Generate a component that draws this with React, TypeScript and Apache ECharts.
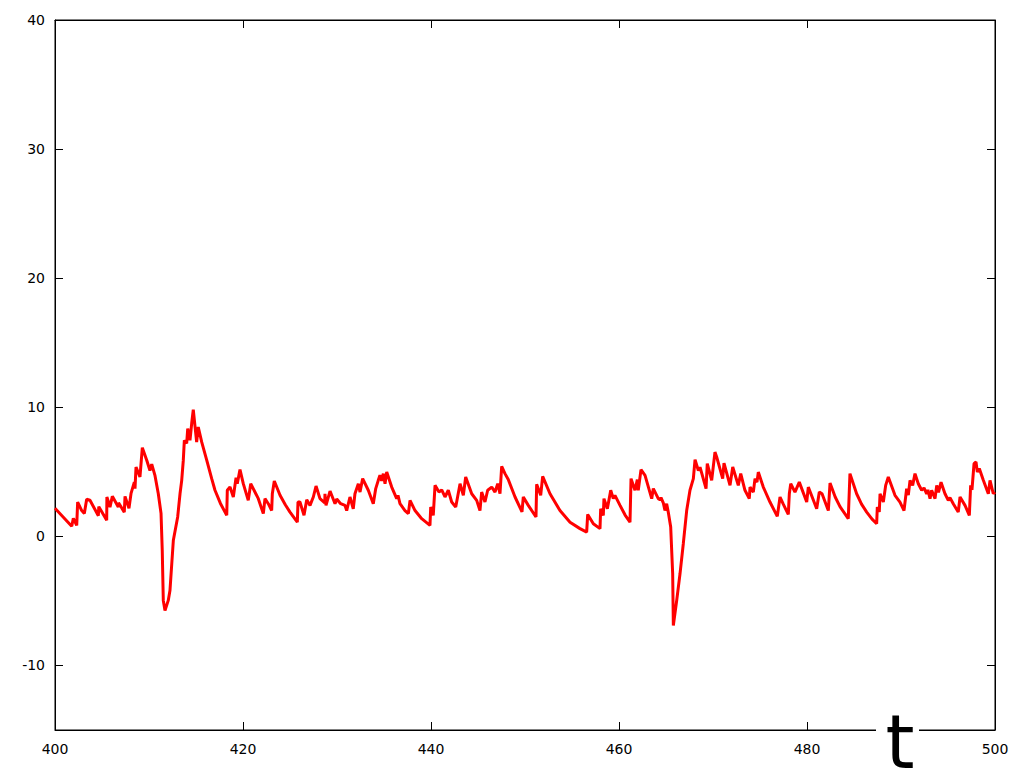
import React, { useEffect, useRef } from "react";
import * as echarts from "echarts";

// time values (t) and signal values
const tValues: number[] = [
  400.00, 401.78, 401.95, 402.31, 402.41, 402.84, 403.12, 403.37, 403.72, 404.61,
  404.66, 405.50, 405.52, 405.85, 406.10, 406.73, 406.76, 407.37, 407.45, 407.87,
  408.09, 408.44, 408.51, 408.62, 409.04, 409.29, 409.76, 410.10, 410.29, 410.64,
  410.99, 411.28, 411.41, 411.52, 411.70, 412.05, 412.23, 412.59, 413.05, 413.30,
  413.48, 413.65, 413.76, 414.01, 414.12, 414.36, 414.54, 414.71, 415.07, 415.24,
  415.61, 416.14, 416.67, 417.02, 417.60, 418.27,
  418.33, 418.62, 418.97, 419.26, 419.39, 419.68, 420.03, 420.56, 420.82, 421.63,
  422.16, 422.34, 422.69, 423.05, 423.12, 423.33, 423.94, 424.50, 425.00, 425.78, 425.85,
  426.06, 426.49, 426.78, 427.13, 427.48, 427.77, 428.19, 428.70, 428.72, 428.83,
  429.26, 429.79, 429.97, 430.39, 430.85, 431.03, 431.38, 431.73, 431.91, 432.27,
  432.45, 432.73, 433.33,
  433.86, 434.12, 434.39, 434.57, 434.75, 434.93, 435.11, 435.29, 435.82, 436.35,
  436.49, 436.70, 437.23, 437.59, 437.77, 438.30, 439.01, 439.89, 439.97, 440.24,
  440.43, 440.85, 441.14, 441.49, 441.84, 442.20, 442.63, 443.09, 443.44, 443.69,
  444.33, 444.86, 445.21, 445.39, 445.74, 446.03, 446.46, 446.81, 447.10, 447.34,
  447.52, 447.87, 448.22, 448.94, 449.68,
  449.82, 450.35, 451.17, 451.24, 451.67, 451.88, 452.66, 453.72, 454.79, 455.85,
  456.56, 456.67, 457.27, 457.98, 458.05, 458.33, 458.40, 458.76, 459.12, 459.39,
  459.57, 460.11, 460.65, 461.17, 461.28, 461.70, 461.95, 462.05, 462.34, 462.77, 463.48,
  463.65, 464.18, 464.36, 464.47, 464.71, 464.89, 465.07, 465.24, 465.50, 465.71,
  465.78, 466.14, 466.49, 466.84, 467.20, 467.55, 467.91, 468.09, 468.44, 468.62,
  469.26, 469.39, 469.86, 470.21, 470.39, 471.03, 471.17, 471.81, 472.10, 472.69,
  472.95, 473.40, 473.86, 473.94, 474.29, 474.47, 474.68, 474.82, 475.35, 476.06,
  476.84, 477.13, 477.45, 478.01, 478.12, 478.27, 478.72, 479.18, 479.97, 480.14,
  481.03, 481.31, 481.60, 482.27, 482.45,
  483.00, 483.51, 484.39, 484.57, 485.28, 485.80, 486.35, 486.90, 487.41, 487.48, 487.69, 487.77, 488.12,
  488.37, 488.65, 489.36, 489.89, 490.32, 490.60, 490.78, 490.96, 491.24, 491.49,
  491.84, 492.20, 492.45, 492.73, 492.86, 493.09, 493.26, 493.62, 493.80, 493.99,
  494.26, 494.68, 495.03, 495.21, 495.56, 496.09, 496.28, 496.81, 497.27, 497.41,
  497.55, 497.77, 497.98, 498.12, 498.33, 498.76, 499.29, 499.47, 499.82, 500.00,
];

const signalValues: number[] = [
  2.17, 0.78, 1.40, 0.85, 2.66, 2.00, 1.78, 2.87, 2.80, 1.60,
  2.30, 1.24, 3.05, 2.27, 3.10, 2.27, 2.60, 1.88, 3.10, 2.17,
  3.33, 4.20, 3.70, 5.37, 4.60, 6.87, 5.90, 5.10, 5.60, 4.70,
  3.30, 1.78, -1.10, -4.96, -5.74, -4.96, -4.20, -0.30, 1.50, 3.30,
  4.34, 5.90, 7.44, 7.20, 8.35, 7.44, 8.74, 9.82, 7.30, 8.47,
  7.30, 5.90, 4.47, 3.57, 2.55, 1.63,
  3.57, 3.82, 3.05, 4.55, 4.08, 5.17, 4.08, 2.79, 4.08, 2.92,
  1.76, 2.92, 2.53, 2.00, 3.30, 4.29, 3.18, 2.45, 1.88, 1.10, 2.66,
  2.66, 1.63, 2.84, 2.40, 3.05, 3.90, 2.92, 2.60, 3.30, 2.40,
  3.51, 2.53, 2.90, 2.53, 2.40, 2.00, 3.05, 2.14, 3.30, 4.08,
  3.43, 4.47, 3.57,
  2.53, 3.70, 4.34, 4.73, 4.30, 4.86, 4.08, 4.98, 3.82, 2.92,
  3.18, 2.53, 2.00, 1.76, 2.79, 2.00, 1.37, 0.85, 2.27, 1.63,
  3.95, 3.43, 3.60, 3.05, 3.57, 2.66, 2.27, 4.08, 3.18, 4.60,
  3.30, 2.79, 2.00, 3.43, 2.66, 3.57, 3.82, 3.43, 4.08, 3.30,
  5.43, 4.86, 4.40, 3.05, 1.90,
  3.05, 2.40, 1.50, 4.03, 3.18, 4.65, 3.30, 2.00, 1.10, 0.60,
  0.33, 1.70, 0.98, 0.60, 2.14, 1.63, 2.92, 2.14, 3.57, 2.92,
  3.18, 2.40, 1.65, 1.10, 4.47, 3.57, 4.39, 3.57, 5.17, 4.73, 2.92,
  3.70, 2.92, 2.84, 3.00, 2.60, 2.00, 2.53, 1.88, 0.72, -2.90,
  -6.90, -4.96, -2.90, -0.57, 2.00, 3.57, 4.47, 5.94, 5.10, 5.37,
  3.70, 5.63, 4.34, 6.53, 6.15, 4.47, 5.68, 3.95, 5.37, 3.95,
  4.86, 3.57, 2.92, 3.82, 3.43, 4.47, 4.20, 4.98, 3.82, 2.66,
  1.55, 3.05, 2.53, 1.70, 3.30, 4.08, 3.43, 4.20, 2.66, 3.82,
  2.14, 3.43, 3.30, 2.00, 4.13,
  3.05, 2.30, 1.37, 4.86, 3.30, 2.50, 1.88, 1.35, 0.98, 2.27, 1.90, 3.30, 2.66,
  3.95, 4.60, 3.18, 2.66, 2.00, 3.70, 3.20, 4.34, 3.95, 4.86,
  4.08, 3.57, 3.75, 3.30, 3.60, 2.92, 3.57, 2.92, 3.95, 3.40,
  4.20, 3.30, 2.79, 3.00, 2.53, 1.88, 3.05, 2.40, 1.63, 3.95,
  3.60, 5.63, 5.76, 4.98, 5.25, 4.34, 3.30, 4.34, 3.30, 3.43,
];

const xTicks: number[] = [400, 420, 440, 460, 480, 500];
const yTicks: number[] = [-10, 0, 10, 20, 30, 40];
const xAxisName = "t";

export default function App() {
  const ref = useRef<HTMLDivElement>(null);

  useEffect(() => {
    if (!ref.current) return;
    const chart = echarts.init(ref.current, null, { renderer: "svg" });
    const data = tValues.map((t, i) => [t, signalValues[i]]);
    const font = "DejaVu Sans";
    const labelStyle = { color: "#000", fontFamily: font, fontSize: 14 };
    const tick = { show: true, inside: true, length: 8, lineStyle: { color: "#000", width: 1 } };
    const line = { show: true, onZero: false, lineStyle: { color: "#000", width: 1 } };
    chart.setOption({
      animation: false,
      backgroundColor: "#fff",
      grid: {
        left: 55,
        right: 29,
        top: 20,
        bottom: 38,
        show: true,
        borderColor: "#000",
        borderWidth: 1,
        backgroundColor: "transparent",
      },
      xAxis: [
        {
          type: "value",
          min: 400,
          max: 500,
          interval: 20,
          position: "bottom",
          axisLine: line,
          axisTick: { ...tick, customValues: xTicks },
          axisLabel: { ...labelStyle, margin: 12, customValues: xTicks },
          splitLine: { show: false },
        },
        {
          type: "value",
          min: 400,
          max: 500,
          interval: 20,
          position: "top",
          axisLine: line,
          axisTick: { ...tick, customValues: xTicks },
          axisLabel: { show: false },
          splitLine: { show: false },
        },
      ],
      yAxis: [
        {
          type: "value",
          min: -15,
          max: 40,
          position: "left",
          axisLine: line,
          axisTick: { ...tick, customValues: yTicks },
          axisLabel: { ...labelStyle, margin: 10, customValues: yTicks },
          splitLine: { show: false },
        },
        {
          type: "value",
          min: -15,
          max: 40,
          position: "right",
          axisLine: line,
          axisTick: { ...tick, customValues: yTicks },
          axisLabel: { show: false },
          splitLine: { show: false },
        },
      ],
      series: [
        {
          type: "line",
          data,
          xAxisIndex: 0,
          yAxisIndex: 0,
          showSymbol: false,
          symbol: "none",
          lineStyle: { color: "#ff0000", width: 3 },
          itemStyle: { color: "#ff0000" },
          z: 3,
        },
      ],
      graphic: [
        {
          type: "rect",
          shape: { x: 876, y: 700, width: 43, height: 68 },
          style: { fill: "#fff" },
          z: 100,
        },
        {
          type: "text",
          x: 900,
          y: 779,
          style: {
            text: xAxisName,
            fontFamily: font,
            fontSize: 74,
            fill: "#000",
            textAlign: "center",
            textVerticalAlign: "bottom",
            verticalAlign: "bottom",
          },
          z: 101,
        },
      ],
    });
    return () => chart.dispose();
  }, []);

  return (
    <div
      ref={ref}
      style={{ position: "fixed", left: 0, top: 0, width: 1024, height: 768, background: "#fff" }}
    />
  );
}
